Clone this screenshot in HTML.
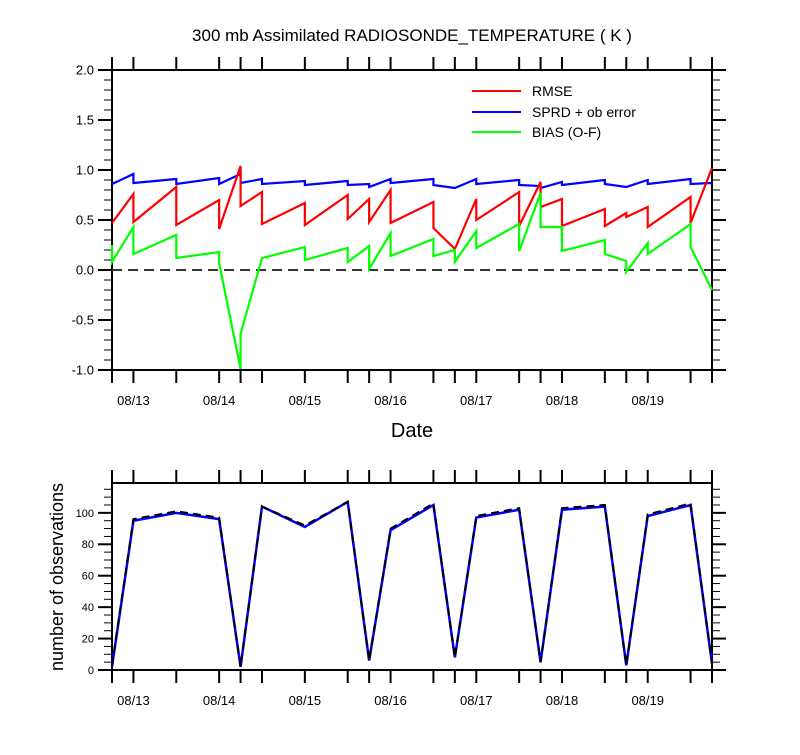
<!DOCTYPE html>
<html><head><meta charset="utf-8"><style>
body{margin:0;background:#fff;}
svg text{font-family:"Liberation Sans",sans-serif;fill:#000;}
</style></head><body>
<svg id="c" width="800" height="750" xmlns="http://www.w3.org/2000/svg">
<text x="412" y="41" font-size="17" text-anchor="middle">300 mb Assimilated RADIOSONDE_TEMPERATURE ( K )</text>
<text x="412" y="437" font-size="20" text-anchor="middle">Date</text>
<text transform="translate(63,577) rotate(-90)" font-size="18" text-anchor="middle">number of observations</text>
<g id="gtop"></g><g id="gbot"></g>
<g>
<line x1="472" y1="91" x2="521" y2="91" stroke="#ff0000" stroke-width="2"/>
<text x="532" y="96" font-size="14">RMSE</text>
<line x1="472" y1="112" x2="521" y2="112" stroke="#0000ff" stroke-width="2"/>
<text x="532" y="117" font-size="14">SPRD + ob error</text>
<line x1="472" y1="132" x2="521" y2="132" stroke="#00ff00" stroke-width="2"/>
<text x="532" y="137" font-size="14">BIAS (O-F)</text>
</g>
</svg>
<script>
const times=[0,0,6,6,18,18,30,30,36,36,42,42,54,54,66,66,72,72,78,78,90,90,96,96,102,102,114,114,120,120,126,126,138,138,144,144,150,150,162,162,168];
const rmse=[0.47,0.47,0.76,0.48,0.83,0.45,0.70,0.41,1.04,0.64,0.78,0.46,0.67,0.45,0.75,0.51,0.71,0.48,0.80,0.47,0.68,0.42,0.21,0.21,0.71,0.50,0.78,0.44,0.88,0.63,0.71,0.44,0.61,0.44,0.57,0.53,0.63,0.43,0.73,0.47,1.02];
const sprd=[0.86,0.86,0.96,0.87,0.91,0.86,0.92,0.86,0.96,0.87,0.91,0.86,0.89,0.85,0.89,0.85,0.86,0.83,0.91,0.87,0.91,0.85,0.82,0.82,0.91,0.86,0.90,0.85,0.84,0.82,0.88,0.85,0.90,0.86,0.83,0.83,0.90,0.86,0.91,0.86,0.87];
const bias=[0.25,0.08,0.43,0.16,0.35,0.12,0.18,0.07,-0.99,-0.64,0.12,0.12,0.23,0.10,0.22,0.08,0.24,0.01,0.37,0.14,0.31,0.14,0.20,0.08,0.39,0.22,0.46,0.19,0.77,0.43,0.43,0.19,0.30,0.16,0.09,-0.02,0.27,0.16,0.46,0.23,-0.20];
const obsTimes=[0,6,18,30,36,42,54,66,72,78,90,96,102,114,120,126,138,144,150,162,168];
const obsUsed=[2,95,100,96,2,104,91,107,6,89,105,8,97,102,5,102,104,3,98,105,4];
const obsTotal=[3,96,101,97,2,104,92,107,6,90,106,8,98,103,5,103,105,3,99,106,4];
const dayLabels=["08/13","08/14","08/15","08/16","08/17","08/18","08/19"];
const dayHours=[6,30,54,78,102,126,150];
const topTicks=["-1.0","-0.5","0.0","0.5","1.0","1.5","2.0"];
const botTicks=["0","20","40","60","80","100"];

const NS="http://www.w3.org/2000/svg";
function mk(p,tag,at){const e=document.createElementNS(NS,tag);for(const k in at)e.setAttribute(k,at[k]);p.appendChild(e);return e;}
const X0=112,X1=712;
const xs=h=>X0+h*(X1-X0)/168;
const yt=v=>370-(v+1)*100;
const yb=v=>670-v*(670-483)/119;
const gTop=document.getElementById('gtop'),gBot=document.getElementById('gbot');

function frame(g,y0,y1,minorVals,majorVals,yf,labels,fs,name){
  const tickTimes=[...new Set(obsTimes)];
  for(const h of tickTimes){
    let l=mk(g,'line',{x1:xs(h),x2:xs(h),y1:y0,y2:y0-13,stroke:'#000','stroke-width':2});
    
    l=mk(g,'line',{x1:xs(h),x2:xs(h),y1:y1,y2:y1+13,stroke:'#000','stroke-width':2});
    
  }
  for(const v of minorVals){
    let l=mk(g,'line',{x1:X0-8,x2:X0,y1:yf(v),y2:yf(v),stroke:'#000','stroke-width':1});
    
    l=mk(g,'line',{x1:X1,x2:X1+8,y1:yf(v),y2:yf(v),stroke:'#000','stroke-width':1});
    
  }
  majorVals.forEach((v,i)=>{
    let l=mk(g,'line',{x1:X0-14,x2:X0,y1:yf(v),y2:yf(v),stroke:'#000','stroke-width':2});
    
    l=mk(g,'line',{x1:X1,x2:X1+14,y1:yf(v),y2:yf(v),stroke:'#000','stroke-width':2});
    
    const t=mk(g,'text',{x:X0-18,y:yf(v)+fs*0.36,'font-size':fs,'text-anchor':'end'});t.textContent=labels[i];
    
  });
  const r=mk(g,'rect',{x:X0,y:y0,width:X1-X0,height:y1-y0,fill:'none',stroke:'#000','stroke-width':2});
  
  dayHours.forEach((h,i)=>{const t=mk(g,'text',{x:xs(h),y:y1+35,'font-size':13,'text-anchor':'middle'});t.textContent=dayLabels[i];
    });
}
let minT=[];for(let i=-10;i<=20;i++)minT.push(i/10);
frame(gTop,70,370,minT,topTicks.map(Number),yt,topTicks,13,'top-plot');
let minB=[];for(let v=0;v<=115;v+=5)minB.push(v);
frame(gBot,483,670,minB,botTicks.map(Number),yb,botTicks,11,'bottom-plot');

const z=mk(gTop,'line',{x1:X0,x2:X1,y1:yt(0),y2:yt(0),stroke:'#333','stroke-width':2,'stroke-dasharray':'10,6'});

function line(g,tt,vals,yf,col,nm,dash,w){
  const p=mk(g,'polyline',{points:tt.map((h,i)=>xs(h)+','+yf(vals[i])).join(' '),fill:'none',stroke:col,'stroke-width':w,'stroke-linejoin':'miter'});
  if(dash)p.setAttribute('stroke-dasharray',dash);
  
}
line(gTop,times,sprd,yt,'#0000ff','sprd-line',null,2.2);
line(gTop,times,rmse,yt,'#ff0000','rmse-line',null,2.2);
line(gTop,times,bias,yt,'#00ff00','bias-line',null,2.2);
line(gBot,obsTimes,obsUsed,yb,'#0000ff','obs-used-line',null,2.5);
line(gBot,obsTimes,obsTotal,yb,'#000000','obs-total-line','8,5',2);
</script>
</body></html>
